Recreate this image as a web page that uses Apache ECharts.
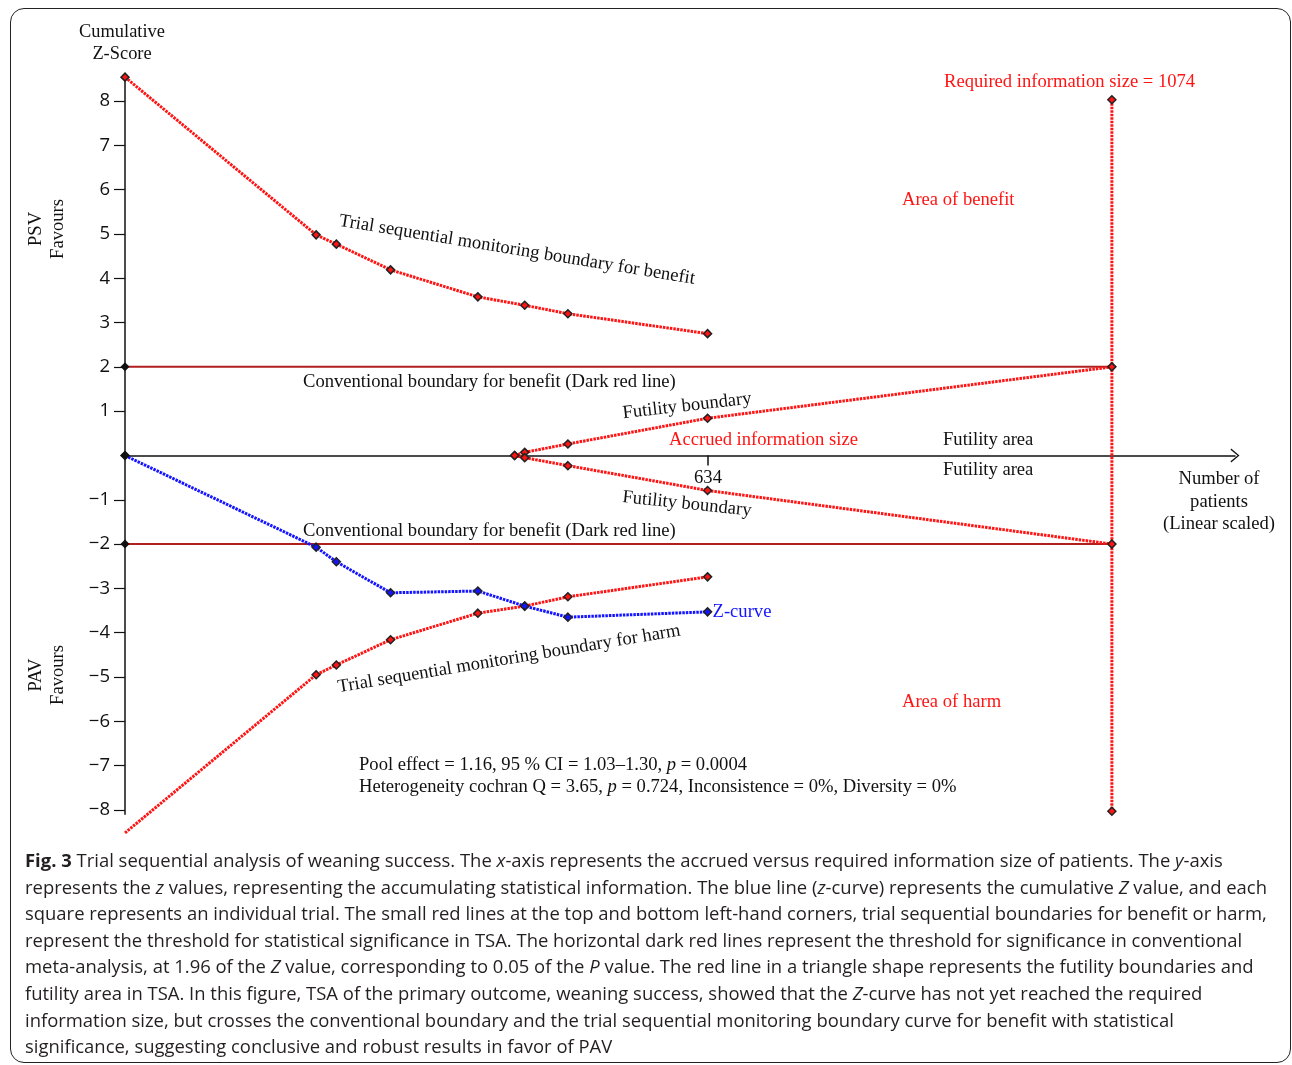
<!DOCTYPE html>
<html>
<head>
<meta charset="utf-8">
<title>Trial sequential analysis of weaning success</title>
<script src="https://cdn.jsdelivr.net/npm/echarts@6/dist/echarts.min.js"></script>
<style>
    body { margin: 0; background: #fff; }
    #wrap { position: relative; width: 1292px; height: 1065px; overflow: hidden; }
    #frame { position: absolute; left: 10px; top: 8px; width: 1279px; height: 1053px; border: 1.5px solid #222; border-radius: 14px; }
    #myEchart { position: absolute; left: 0; top: 0; width: 1292px; height: 1065px; }
    #caption { position: absolute; left: 25px; top: 847px; font-family: 'Open Sans', sans-serif; font-size: 18.45px; line-height: 26.6px; color: #231f20; white-space: nowrap; }
</style>
</head>
<body>
<div id="wrap">
    <div id="frame"></div>
    <div id="myEchart"></div>
    <div id="caption">
        <b>Fig. 3</b> Trial sequential analysis of weaning success. The <i>x</i>-axis represents the accrued versus required information size of patients. The <i>y</i>-axis<br>
        represents the <i>z</i> values, representing the accumulating statistical information. The blue line (<i>z</i>-curve) represents the cumulative <i>Z</i> value, and each<br>
        square represents an individual trial. The small red lines at the top and bottom left-hand corners, trial sequential boundaries for benefit or harm,<br>
        represent the threshold for statistical significance in TSA. The horizontal dark red lines represent the threshold for significance in conventional<br>
        meta-analysis, at 1.96 of the <i>Z</i> value, corresponding to 0.05 of the <i>P</i> value. The red line in a triangle shape represents the futility boundaries and<br>
        futility area in TSA. In this figure, TSA of the primary outcome, weaning success, showed that the <i>Z</i>-curve has not yet reached the required<br>
        information size, but crosses the conventional boundary and the trial sequential monitoring boundary curve for benefit with statistical<br>
        significance, suggesting conclusive and robust results in favor of PAV
    </div>
</div>
<script>
// cumulative number of patients after each trial
var trialN = [0, 208, 230, 289, 384, 435, 482, 634];
var benefitZ = [8.54, 4.98, 4.77, 4.19, 3.58, 3.39, 3.20, 2.75];
var harmZ = [-8.52, -4.95, -4.73, -4.16, -3.56, -3.40, -3.19, -2.74];
var zCurve = [0, -2.07, -2.40, -3.10, -3.06, -3.40, -3.65, -3.53];

// futility (inner wedge) boundaries
var futilityN = [424, 435, 482, 634, 1074];
var futilityUp = [0, 0.07, 0.26, 0.84, 2];
var futilityDown = [0, -0.05, -0.23, -0.79, -2];

var requiredN = 1074;
var accruedN = 634;
var convZ = 2;
var requiredTop = 8.03;
var requiredBottom = -8.03;
var yTicks = [-8, -7, -6, -5, -4, -3, -2, -1, 1, 2, 3, 4, 5, 6, 7, 8];

var SERIF = "'Liberation Serif', 'Times New Roman', serif";
var FS = 18.6;
var RED = '#ff1414';
var BLUE = '#1414ff';
var DARKRED = '#b01e1e';

function pairs(xs, ys) {
    var out = [];
    for (var i = 0; i < xs.length; i++) {
        out.push([xs[i], ys[i]]);
    }
    return out;
}

var dotMark = { color: RED, borderColor: '#222', borderWidth: 1.5 };
var dotLine = { color: RED, width: 3, type: [2.5, 1] };

function txt(str, x, y, o) {
    o = o || {};
    return {
        type: 'text',
        x: x,
        y: y,
        rotation: (o.rot || 0) * Math.PI / 180,
        z: 50,
        style: {
            text: str,
            fontFamily: o.family || SERIF,
            fontSize: o.size || FS,
            fill: o.color || '#111',
            align: o.align || 'left',
            verticalAlign: 'middle',
            lineHeight: o.lh || 22,
            rich: o.rich
        }
    };
}

var myChart = echarts.init(document.getElementById('myEchart'));

var harmData = pairs(trialN, harmZ);
harmData[0] = { value: harmData[0], symbol: 'none' };
var zData = pairs(trialN, zCurve);
zData[0] = { value: zData[0], itemStyle: { color: '#111', borderColor: '#111' } };

myChart.setOption({
    animation: false,
    grid: {
        left: 125,
        right: 57,
        top: 76.7,
        bottom: 250.7
    },
    xAxis: {
        type: 'value',
        min: 0,
        max: 1208,
        axisLine: {
            onZero: true,
            lineStyle: { color: '#111', width: 1.5 },
            symbol: ['none', 'path://M0,12 L10,0 L20,12 L18.4,13 L10,2.8 L1.6,13 Z'],
            symbolSize: [20, 9]
        },
        axisTick: {
            show: true,
            length: 10,
            customValues: [accruedN],
            lineStyle: { color: '#111', width: 1.5 }
        },
        axisLabel: { show: false },
        splitLine: { show: false }
    },
    yAxis: {
        type: 'value',
        min: -8.1,
        max: 8.55,
        name: 'Cumulative\nZ-Score',
        nameLocation: 'end',
        nameGap: 12,
        nameTextStyle: {
            fontFamily: SERIF,
            fontSize: 18.4,
            color: '#111',
            lineHeight: 22,
            align: 'center',
            padding: [0, 6, 0, 0]
        },
        axisLine: { show: true, lineStyle: { color: '#111', width: 1.5 } },
        axisTick: {
            show: true,
            length: 11,
            customValues: yTicks,
            lineStyle: { color: '#111', width: 1.2 }
        },
        axisLabel: {
            show: true,
            customValues: yTicks,
            margin: 15,
            fontFamily: "'Open Sans', sans-serif",
            fontSize: 18.5,
            color: '#111',
            formatter: function(v) {
                return String(v).replace('-', '\u2212');
            }
        },
        splitLine: { show: false }
    },
    series: [{
        name: 'Conventional upper',
        type: 'line',
        data: [[0, convZ], [requiredN, convZ]],
        symbol: 'diamond',
        symbolSize: 9,
        itemStyle: { color: '#111' },
        lineStyle: { color: DARKRED, width: 2 },
        z: 3
    }, {
        name: 'Conventional lower',
        type: 'line',
        data: [[0, -convZ], [requiredN, -convZ]],
        symbol: 'diamond',
        symbolSize: 9,
        itemStyle: { color: '#111' },
        lineStyle: { color: DARKRED, width: 2 },
        z: 3
    }, {
        name: 'Required information size',
        type: 'line',
        data: [[requiredN, requiredTop], [requiredN, requiredBottom]],
        symbol: 'diamond',
        symbolSize: 8,
        itemStyle: dotMark,
        lineStyle: dotLine,
        z: 2
    }, {
        name: 'Benefit boundary',
        type: 'line',
        data: pairs(trialN, benefitZ),
        symbol: 'diamond',
        symbolSize: 8,
        itemStyle: dotMark,
        lineStyle: dotLine,
        clip: false,
        z: 4
    }, {
        name: 'Harm boundary',
        type: 'line',
        data: harmData,
        symbol: 'diamond',
        symbolSize: 8,
        itemStyle: dotMark,
        lineStyle: dotLine,
        clip: false,
        z: 4
    }, {
        name: 'Futility upper',
        type: 'line',
        data: pairs(futilityN, futilityUp),
        symbol: 'diamond',
        symbolSize: 8,
        itemStyle: dotMark,
        lineStyle: dotLine,
        z: 4
    }, {
        name: 'Futility lower',
        type: 'line',
        data: pairs(futilityN, futilityDown),
        symbol: 'diamond',
        symbolSize: 8,
        itemStyle: dotMark,
        lineStyle: dotLine,
        z: 4
    }, {
        name: 'Z-curve',
        type: 'line',
        data: zData,
        symbol: 'diamond',
        symbolSize: 8,
        itemStyle: { color: BLUE, borderColor: '#222', borderWidth: 1.5 },
        lineStyle: { color: BLUE, width: 3, type: [2.5, 1] },
        endLabel: {
            show: true,
            formatter: 'Z-curve',
            distance: 5,
            fontFamily: SERIF,
            fontSize: FS,
            color: BLUE
        },
        z: 6
    }],
    graphic: [
        txt('PSV\nFavours', 47, 229, { rot: 90, align: 'center', lh: 21.5 }),
        txt('PAV\nFavours', 47, 675, { rot: 90, align: 'center', lh: 21.5 }),
        txt('Trial sequential monitoring boundary for benefit', 517, 250, { rot: -9.3, align: 'center' }),
        txt('Trial sequential monitoring boundary for harm', 509, 659, { rot: 9.4, align: 'center' }),
        txt('Conventional boundary for benefit (Dark red line)', 303, 382),
        txt('Conventional boundary for benefit (Dark red line)', 303, 531),
        txt('Futility boundary', 687, 406, { rot: 6.5, align: 'center' }),
        txt('Futility boundary', 687, 504, { rot: -6, align: 'center' }),
        txt(String(accruedN), 708, 478, { align: 'center' }),
        txt('Accrued information size', 669, 440, { color: RED }),
        txt('Futility area', 943, 440),
        txt('Futility area', 943, 470),
        txt('Number of\npatients\n(Linear scaled)', 1219, 502, { align: 'center', lh: 22.5 }),
        txt('Area of benefit', 902, 200, { color: RED }),
        txt('Area of harm', 902, 702, { color: RED }),
        txt('Required information size = 1074', 944, 82, { color: RED }),
        txt('{n|Pool effect = 1.16, 95 % CI = 1.03\u20131.30, }{i|p}{n| = 0.0004}\n' +
            '{n|Heterogeneity cochran Q = 3.65, }{i|p}{n| = 0.724, Inconsistence = 0%, Diversity = 0%}',
            359, 776, {
                lh: 22,
                rich: {
                    n: { fontFamily: SERIF, fontSize: FS, fill: '#111', lineHeight: 22 },
                    i: { fontFamily: SERIF, fontSize: FS, fill: '#111', fontStyle: 'italic', lineHeight: 22 }
                }
            })
    ]
});
</script>
</body>
</html>
